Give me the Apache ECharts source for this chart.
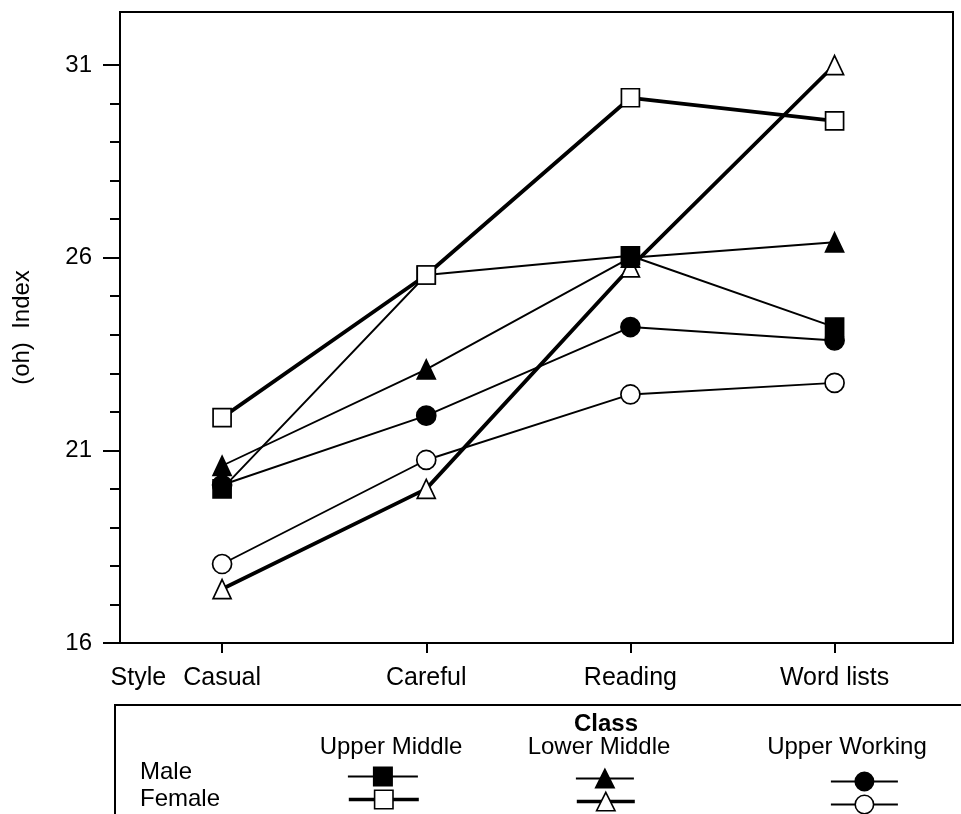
<!DOCTYPE html>
<html>
<head>
<meta charset="utf-8">
<script src="https://cdn.jsdelivr.net/npm/echarts@6/dist/echarts.min.js"></script>
<style>html,body{margin:0;padding:0;background:#fff}#c{width:961px;height:814px}</style>
</head>
<body>
<div id="c"></div>
<script>
const categories = ['Casual', 'Careful', 'Reading', 'Word lists'];
const styleLabel = 'Style';
const yTickLabels = [16, 21, 26, 31];
const yMinorTicks = [17, 18, 19, 20, 22, 23, 24, 25, 27, 28, 29, 30];
const classNames = ['Upper Middle', 'Lower Middle', 'Upper Working'];
const maleUpperMiddle   = [20.0, 25.55, 26.05, 24.2];
const femaleUpperMiddle = [21.85, 25.55, 30.15, 29.55];
const maleLowerMiddle   = [20.6, 23.1, 26.0, 26.4];
const femaleLowerMiddle = [17.4, 20.0, 25.75, 31.0];
const maleUpperWorking  = [20.1, 21.9, 24.2, 23.85];
const femaleUpperWorking= [18.05, 20.75, 22.45, 22.75];

const FONT = 'Liberation Sans, Arial, Helvetica, sans-serif';
const toPts = arr => arr.map((v, i) => [i + 1, v]);
const STYLE_POS = 0.59;

function mk(name, data, symbol, filled, thick, size) {
  return {
    name, type: 'line', data: toPts(data), clip: false,
    symbol, symbolSize: size,
    lineStyle: { color: '#000', width: thick ? 3.8 : 1.9 },
    itemStyle: { color: filled ? '#000' : '#fff', borderColor: '#000', borderWidth: 1.7 },
    emphasis: { disabled: true },
    animation: false
  };
}

const series = [
  mk('Female Lower Middle', femaleLowerMiddle, 'triangle', false, true, [18, 19]),
  mk('Male Lower Middle', maleLowerMiddle, 'triangle', true, false, [18, 19]),
  mk('Female Upper Working', femaleUpperWorking, 'circle', false, false, 19),
  mk('Male Upper Working', maleUpperWorking, 'circle', true, false, 19),
  mk('Male Upper Middle', maleUpperMiddle, 'rect', true, false, 18),
  mk('Female Upper Middle', femaleUpperMiddle, 'rect', false, true, 18)
];

function lg(name, left, top, w, thick) {
  return {
    data: [name], left, top, padding: 0, itemWidth: w, itemHeight: 23,
    formatter: () => '', selectedMode: false,
    lineStyle: { width: thick ? 3.6 : 1.8, color: '#000' },
    itemStyle: { borderWidth: 1.6, borderColor: '#000' },
    textStyle: { fontSize: 1 }
  };
}

const option = {
  animation: false,
  textStyle: { fontFamily: FONT, color: '#000' },
  grid: { left: 120, right: 8, top: 12, bottom: 171, show: true, borderColor: '#000', borderWidth: 2, containLabel: false },
  xAxis: {
    type: 'value', min: 0.5, max: 4.58,
    axisLine: { show: true, onZero: false, lineStyle: { color: '#000', width: 2 } },
    axisTick: { show: true, customValues: categories.map((c, i) => i + 1), length: 10, lineStyle: { color: '#000', width: 2 } },
    axisLabel: {
      customValues: [STYLE_POS].concat(categories.map((c, i) => i + 1)),
      formatter: v => (v < 0.9 ? styleLabel : categories[Math.round(v) - 1]),
      fontSize: 25, color: '#000', fontFamily: FONT, margin: 23
    },
    splitLine: { show: false }
  },
  yAxis: [
    {
      type: 'value', min: 16, max: 32.376, position: 'left',
      name: '(oh)  Index', nameLocation: 'middle', nameGap: 86, nameRotate: 90,
      nameTextStyle: { fontSize: 24, color: '#000', fontFamily: FONT },
      axisLine: { show: true, lineStyle: { color: '#000', width: 2 } },
      axisTick: { show: true, customValues: yTickLabels, length: 17, lineStyle: { color: '#000', width: 2 } },
      axisLabel: { customValues: yTickLabels, fontSize: 24, color: '#000', fontFamily: FONT, margin: 28 },
      splitLine: { show: false }
    },
    {
      type: 'value', min: 16, max: 32.376, position: 'left',
      axisLine: { show: false },
      axisTick: { show: true, customValues: yMinorTicks, length: 10, lineStyle: { color: '#000', width: 2 } },
      axisLabel: { show: false },
      splitLine: { show: false }
    }
  ],
  legend: [
    lg('Male Upper Middle', 347, 765, 70, false),
    lg('Female Upper Middle', 347, 788, 70, true),
    lg('Male Lower Middle', 575, 767, 58, false),
    lg('Female Lower Middle', 575, 790, 58, true),
    lg('Male Upper Working', 830, 770, 67, false),
    lg('Female Upper Working', 830, 793, 67, false)
  ],
  graphic: [
    { type: 'rect', shape: { x: 115, y: 705, width: 900, height: 200 }, style: { fill: 'none', stroke: '#000', lineWidth: 2 }, silent: true },
    { type: 'text', x: 606, y: 724, style: { text: 'Class', font: 'bold 24px ' + FONT, fill: '#000', align: 'center', verticalAlign: 'middle' } },
    { type: 'text', x: 391, y: 747, style: { text: classNames[0], font: '24px ' + FONT, fill: '#000', align: 'center', verticalAlign: 'middle' } },
    { type: 'text', x: 599, y: 747, style: { text: classNames[1], font: '24px ' + FONT, fill: '#000', align: 'center', verticalAlign: 'middle' } },
    { type: 'text', x: 847, y: 747, style: { text: classNames[2], font: '24px ' + FONT, fill: '#000', align: 'center', verticalAlign: 'middle' } },
    { type: 'text', x: 140, y: 772, style: { text: 'Male', font: '24px ' + FONT, fill: '#000', align: 'left', verticalAlign: 'middle' } },
    { type: 'text', x: 140, y: 799, style: { text: 'Female', font: '24px ' + FONT, fill: '#000', align: 'left', verticalAlign: 'middle' } }
  ],
  series
};
const chart = echarts.init(document.getElementById('c'), null, { renderer: 'canvas' });
chart.setOption(option);
</script>
</body>
</html>
